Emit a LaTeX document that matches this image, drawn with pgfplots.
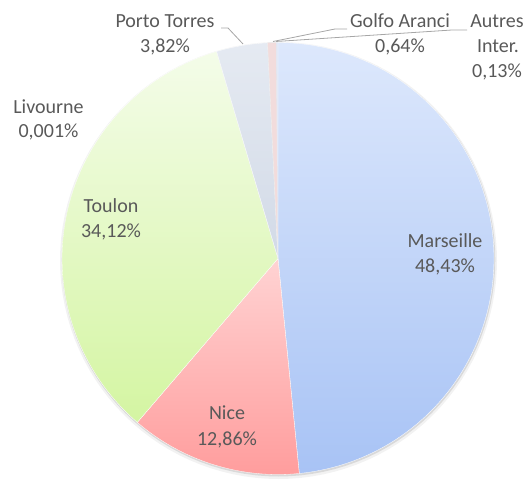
\documentclass[border=0pt]{standalone}
\usepackage{pgfplots}
\pgfplotsset{compat=1.18}
\usepackage{pgfplotstable}
\usepackage{fontspec}
\setmainfont{Carlito}
\definecolor{lbl}{HTML}{595959}
\definecolor{lead}{HTML}{A6A6A6}
\definecolor{marT}{HTML}{DDE8FC}\definecolor{marB}{HTML}{A8C3F5}
\definecolor{nicT}{HTML}{FFD3D3}\definecolor{nicB}{HTML}{FF9D9D}
\definecolor{touT}{HTML}{F4FCE9}\definecolor{touB}{HTML}{D4F5A2}
\definecolor{porT}{HTML}{E5EAF2}\definecolor{porB}{HTML}{D2DAE7}
\definecolor{gol}{HTML}{F2DCDC}
\definecolor{aut}{HTML}{E3E9F7}
\definecolor{liv}{HTML}{E8E8E8}
\newcommand\labfont{\fontsize{20}{24}\selectfont}
\tikzset{lab/.style={font=\labfont, text=lbl, anchor=base, inner sep=0pt}}
\pgfplotstableread{
name value
Marseille 48.43
Nice 12.86
Toulon 34.12
Livourne 0.001
PortoTorres 3.82
GolfoAranci 0.64
Autres 0.13
}\piedata
\begin{document}
\begin{tikzpicture}
\pgfplotstablegetelem{0}{value}\of\piedata \let\vA\pgfplotsretval
\pgfplotstablegetelem{1}{value}\of\piedata \let\vB\pgfplotsretval
\pgfplotstablegetelem{2}{value}\of\piedata \let\vC\pgfplotsretval
\pgfplotstablegetelem{3}{value}\of\piedata \let\vD\pgfplotsretval
\pgfplotstablegetelem{4}{value}\of\piedata \let\vE\pgfplotsretval
\pgfplotstablegetelem{5}{value}\of\piedata \let\vF\pgfplotsretval
\pgfplotstablegetelem{6}{value}\of\piedata \let\vG\pgfplotsretval
\pgfmathsetmacro\tot{\vA+\vB+\vC+\vD+\vE+\vF+\vG}
\pgfmathsetmacro\aO{90}
\pgfmathsetmacro\aA{\aO-\vA/\tot*360}
\pgfmathsetmacro\aB{\aA-\vB/\tot*360}
\pgfmathsetmacro\aC{\aB-\vC/\tot*360}
\pgfmathsetmacro\aD{\aC-\vD/\tot*360}
\pgfmathsetmacro\aE{\aD-\vE/\tot*360}
\pgfmathsetmacro\aF{\aE-\vF/\tot*360}
\pgfmathsetmacro\aG{\aF-\vG/\tot*360}
\def\cx{278}\def\cy{218.5}\def\rr{216}
\begin{axis}[
  scale only axis, width=524pt, height=477pt,
  xmin=0, xmax=524, ymin=0, ymax=477,
  hide axis, clip=false,
]
\path (axis cs:0,0) rectangle (axis cs:524,477);
% soft shadow
\addplot[draw=none, fill=black, opacity=0.05, domain=0:360, samples=121] ({\cx+0.5+\rr*cos(x)+2.5*cos(x)},{\cy-2+\rr*sin(x)+2.5*sin(x)}) -- cycle;
\addplot[draw=none, fill=black, opacity=0.10, domain=0:360, samples=121] ({\cx+0.5+\rr*cos(x)+0.8*cos(x)},{\cy-1.2+\rr*sin(x)+0.8*sin(x)}) -- cycle;
% slices
\addplot[draw=white, line width=0.3pt, top color=marT, bottom color=marB, domain=\aA:\aO, samples=120]
  ({\cx+\rr*cos(x)},{\cy+\rr*sin(x)}) -- (axis cs:\cx,\cy) -- cycle;
\addplot[draw=white, line width=0.3pt, top color=nicT, bottom color=nicB, domain=\aB:\aA, samples=40]
  ({\cx+\rr*cos(x)},{\cy+\rr*sin(x)}) -- (axis cs:\cx,\cy) -- cycle;
\addplot[draw=white, line width=0.3pt, top color=touT, bottom color=touB, domain=\aC:\aB, samples=100]
  ({\cx+\rr*cos(x)},{\cy+\rr*sin(x)}) -- (axis cs:\cx,\cy) -- cycle;
\addplot[draw=none, fill=liv, domain=\aD:\aC, samples=2]
  ({\cx+\rr*cos(x)},{\cy+\rr*sin(x)}) -- (axis cs:\cx,\cy) -- cycle;
\addplot[draw=white, line width=0.3pt, top color=porT, bottom color=porB, domain=\aE:\aD, samples=12]
  ({\cx+\rr*cos(x)},{\cy+\rr*sin(x)}) -- (axis cs:\cx,\cy) -- cycle;
\addplot[draw=white!85!gray, line width=0.4pt, fill=gol, domain=\aF:\aE, samples=4]
  ({\cx+\rr*cos(x)},{\cy+\rr*sin(x)}) -- (axis cs:\cx,\cy) -- cycle;
\addplot[draw=none, fill=aut, domain=\aG:\aF, samples=3]
  ({\cx+\rr*cos(x)},{\cy+\rr*sin(x)}) -- (axis cs:\cx,\cy) -- cycle;
% leader lines
\draw[lead, line width=0.8pt] (axis cs:221,449) -- (axis cs:228,449) -- (axis cs:243,433);
\draw[lead, line width=0.8pt] (axis cs:273,435.5) -- (axis cs:335,448) -- (axis cs:347,448);
\draw[lead, line width=0.8pt] (axis cs:276,435.5) -- (axis cs:452,447) -- (axis cs:467,447);
% labels
\node[lab] at (axis cs:445,229) {Marseille};
\node[lab] at (axis cs:445,204) {48,43\%};
\node[lab] at (axis cs:227,58) {Nice};
\node[lab] at (axis cs:227,32) {12,86\%};
\node[lab] at (axis cs:111,264) {Toulon};
\node[lab] at (axis cs:111,239) {34,12\%};
\node[lab] at (axis cs:48.5,363) {Livourne};
\node[lab] at (axis cs:48.5,339) {0,001\%};
\node[lab] at (axis cs:165,449) {Porto Torres};
\node[lab] at (axis cs:165,424) {3,82\%};
\node[lab] at (axis cs:400,449) {Golfo Aranci};
\node[lab] at (axis cs:400,424) {0,64\%};
\node[lab] at (axis cs:497,449) {Autres};
\node[lab] at (axis cs:498,424) {Inter.};
\node[lab] at (axis cs:497,399) {0,13\%};
\end{axis}
\end{tikzpicture}
\end{document}
